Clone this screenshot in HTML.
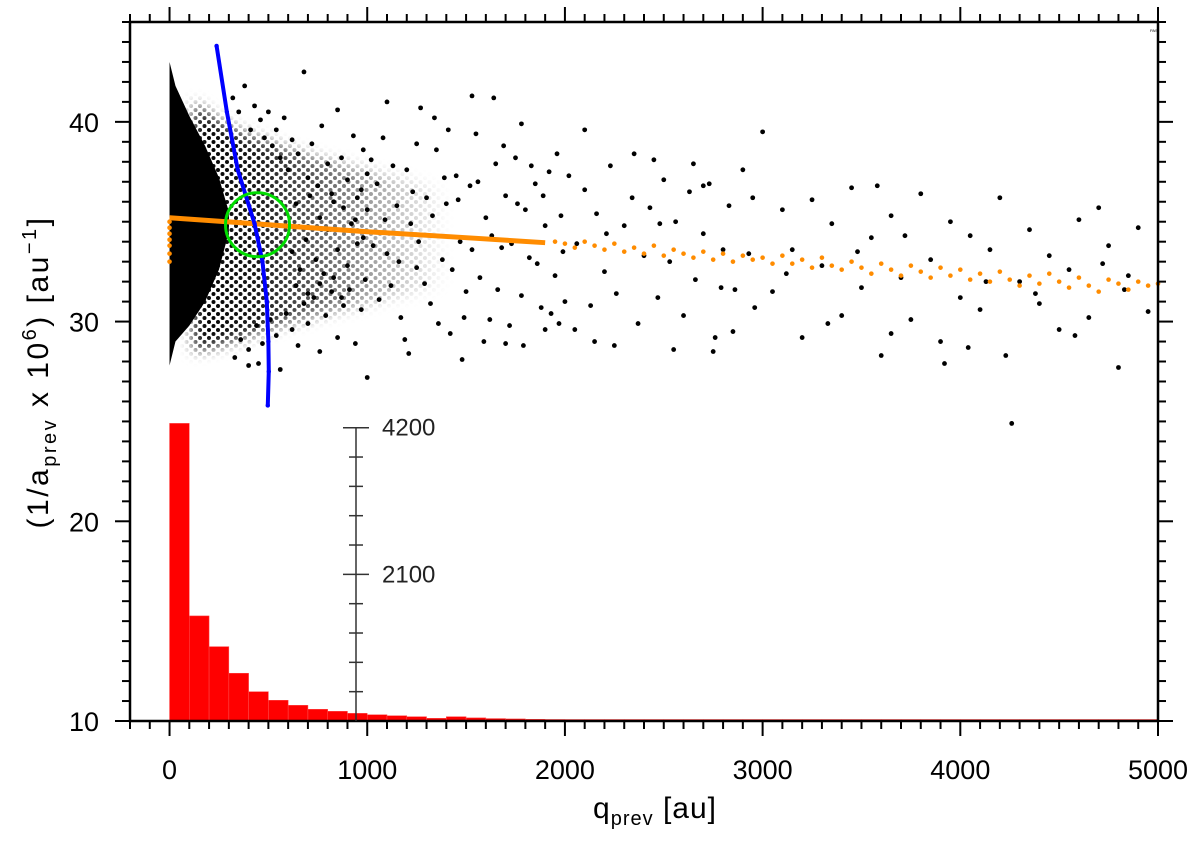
<!DOCTYPE html>
<html><head><meta charset="utf-8"><style>
html,body{margin:0;padding:0;background:#fff;}
svg{display:block;font-family:"Liberation Sans",sans-serif;}
</style></head><body>
<svg id="chart" width="1200" height="844" viewBox="0 0 1200 844" xmlns="http://www.w3.org/2000/svg">
<defs>
<linearGradient id="haloGrad" x1="0" x2="1" y1="0" y2="0">
<stop offset="0" stop-color="#fff" stop-opacity="1"/>
<stop offset="0.25" stop-color="#fff" stop-opacity="0.9"/>
<stop offset="0.6" stop-color="#fff" stop-opacity="0.5"/>
<stop offset="1" stop-color="#fff" stop-opacity="0"/>
</linearGradient>
<pattern id="dots" width="9" height="8" patternUnits="userSpaceOnUse">
<circle cx="2" cy="2" r="2" fill="#000"/>
<circle cx="6.5" cy="6" r="2" fill="#000"/>
</pattern>
<filter id="soft" x="-10%" y="-20%" width="120%" height="140%"><feGaussianBlur stdDeviation="7"/></filter>
<mask id="haloMask" maskUnits="userSpaceOnUse" x="0" y="0" width="1200" height="844">
<g id="maskg" filter="url(#soft)"></g>
</mask>
</defs>
<g id="hist"></g>
<g id="blob"></g>
<g id="pts"></g>
<g id="orange"></g>
<g id="blue"></g>
<g id="green"></g>
<g id="axes"></g>
<g id="haxis"></g>
<text x="1150" y="32" font-size="4">PAS</text>
<text x="655" y="818" font-size="30" letter-spacing="1" text-anchor="middle">q<tspan font-size="20" dy="7">prev</tspan><tspan dy="-7">  [au]</tspan></text>
<text transform="translate(48,372) rotate(-90)" font-size="30" letter-spacing="2.5" text-anchor="middle">(1/a<tspan font-size="20" dy="8">prev</tspan><tspan dy="-8"> x 10</tspan><tspan font-size="20" dy="-12">6</tspan><tspan dy="12">)  [au</tspan><tspan font-size="20" dy="-12">−1</tspan><tspan dy="12">]</tspan></text>
</svg>
<script>
const xTicks=[0,1000,2000,3000,4000,5000];
const yTicks=[10,20,30,40];
const histCounts=[4262,1505,1065,684,420,297,225,168,139,110,90,76,62,39,62,45,35,30,25,22,18,15,12,10,8,6,5,4,3,3,2,2,2,1,1,1,1,1,1,1,1,1,1,1,1,1,1,1,1,1];
const histTickLabels=[2100,4200];
const envQ=[0,30,100,180,250,300];
const envTop=[43,41.8,40.3,38.8,37.2,35.5];
const envBot=[27.8,29,29.8,31,32.6,34.5];
const haloQ=[120,250,400,550,700,900,1100,1400];
const haloTop=[41,40,39.3,38.8,38.3,37.8,37.3,36.6];
const haloBot=[28.5,28.8,29.3,29.8,30.2,30.7,31.2,31.8];
const blackQ=[320,350,380,410,430,460,480,500,520,540,560,580,600,620,650,680,700,720,750,770,800,820,850,870,900,930,950,980,1000,330,360,400,440,470,510,540,560,590,620,650,680,700,730,760,790,820,850,880,910,940,970,1000,400,450,620,640,660,690,710,740,760,780,800,830,850,880,900,920,950,970,990,640,700,760,830,870,940,980,1000,
1020,1050,1080,1100,1120,1150,1170,1200,1220,1250,1270,1300,1320,1350,1380,1400,1420,1450,1470,1500,1520,1550,1570,1600,1620,1650,1680,1700,1720,1750,1780,1800,1820,1850,1880,1900,1920,1950,1980,2000,1030,1060,1090,1130,1160,1190,1230,1260,1290,1330,1360,1390,1430,1460,1490,1530,1560,1590,1630,1660,1690,1730,1760,1790,1830,1860,1890,1930,1960,1990,1100,1340,1530,1640,1210,1480,1700,1900,1250,1410,1780,1970,
2020,2060,2100,2130,2160,2200,2230,2260,2300,2340,2370,2400,2430,2470,2500,2530,2560,2600,2630,2660,2700,2730,2760,2800,2830,2860,2900,2930,2960,3000,2050,2150,2250,2350,2450,2550,2650,2750,2850,2950,2100,2700,2210,2480,2790,
3050,3100,3150,3200,3250,3300,3350,3400,3450,3500,3550,3600,3650,3700,3750,3800,3850,3900,3950,4000,4050,4100,4150,4200,4230,4260,4300,4350,4400,4450,4500,4550,4600,4650,4700,4750,4800,4850,4900,4950,3120,3330,3580,3720,3920,4130,4380,4580,4720,3480,3650,4040,4830];
const blackY=[41.2,40.5,41.8,39.6,40.8,40.1,39.2,40.5,38.8,39.6,38.2,40.2,37.6,39.1,38.4,42.5,37.2,38.9,36.8,39.8,37.9,36.4,40.6,38.2,37.1,39.3,36.2,38.6,37.4,28.2,29.1,28.6,29.8,28.9,30.1,29.3,27.6,30.4,29.6,28.8,30.9,29.9,31.2,28.5,30.3,31.5,29.2,30.8,31.6,28.9,30.6,27.2,27.8,27.9,33.5,35.9,32.6,34.1,36.3,33.1,35.2,32.4,34.6,36.0,33.6,35.7,32.8,34.9,33.9,36.6,32.1,31.8,31.4,31.9,32.2,31.2,35.1,34.2,35.6,
38.1,36.9,39.2,33.4,31.8,35.8,30.2,37.6,34.9,32.7,40.7,36.2,30.9,38.6,33.1,35.9,29.4,37.3,34.0,31.5,36.8,39.4,32.2,35.2,30.1,37.9,33.7,36.3,29.8,38.2,31.3,35.6,33.2,36.9,30.7,34.8,37.5,32.3,35.3,31.0,33.8,31.1,35.1,37.8,33.0,29.1,36.5,34.0,31.9,35.3,29.9,37.2,32.6,36.1,30.2,33.6,37.0,29.0,34.3,31.6,38.8,33.9,35.9,28.8,37.8,32.9,36.3,30.4,38.4,33.5,41.0,40.2,41.3,41.2,28.4,28.1,28.9,29.6,38.9,39.6,39.9,29.9,
37.3,33.9,36.6,30.8,35.4,32.5,37.8,31.4,34.8,36.2,29.9,33.3,35.7,31.2,37.1,33.0,35.0,30.3,36.5,32.1,34.4,36.9,29.2,33.6,35.8,31.6,37.6,33.4,30.7,39.5,29.6,29.0,28.8,38.4,38.1,28.6,37.9,28.5,29.5,36.2,39.6,36.8,34.4,34.9,31.7,
31.5,35.6,33.6,29.2,36.1,32.8,34.9,30.3,36.7,31.7,34.2,28.3,35.3,32.2,30.1,36.4,33.1,29.0,35.0,31.2,34.3,30.6,33.6,36.2,28.3,24.9,32.0,34.6,30.9,33.3,29.6,32.6,35.1,30.2,35.7,33.8,27.7,32.3,34.7,30.5,32.4,29.9,36.8,34.3,27.9,32.0,31.4,29.3,32.9,33.5,29.4,28.7,31.6];
const orangeLineQ=[0,500,1000,1500,1900];
const orangeLineY=[35.2,34.85,34.5,34.2,33.95];
const orangeQ=[0,0,0,0,0,0,0,1950,2000,2050,2100,2150,2200,2250,2300,2350,2400,2450,2500,2550,2600,2650,2700,2750,2800,2850,2900,2950,3000,3050,3100,3150,3200,3250,3300,3350,3400,3450,3500,3550,3600,3650,3700,3750,3800,3850,3900,3950,4000,4050,4100,4150,4200,4250,4300,4350,4400,4450,4500,4550,4600,4650,4700,4750,4800,4850,4900,4950,5000];
const orangeY=[35.0,34.7,34.4,34.1,33.8,33.4,33.0,34.0,33.9,33.7,34.0,33.8,33.6,33.9,33.5,33.7,33.4,33.8,33.3,33.6,33.4,33.2,33.5,33.1,33.4,33.0,33.3,33.1,33.2,32.9,33.3,32.9,33.1,32.7,33.2,32.8,32.6,33.0,32.7,32.4,32.9,32.6,32.3,32.8,32.5,32.2,32.7,32.3,32.6,32.1,32.4,32.0,32.5,32.1,31.8,32.3,31.9,32.4,32.0,31.7,32.2,31.8,31.5,32.1,31.9,31.6,32.0,31.8,31.9];
const blueQ=[238,290,345,430,470,492,500,502,497];
const blueY=[43.8,40.5,37.6,34.9,33.0,31.0,29.0,27.5,25.8];
const circleQ=445, circleY=34.85;

const NS="http://www.w3.org/2000/svg";
const L=130,R=1158,T=22,B=721;
const xMin=-200,xMax=5000,yMin=10,yMax=45;
function xs(q){return L+(q-xMin)/(xMax-xMin)*(R-L);}
function ys(v){return B-(v-yMin)/(yMax-yMin)*(B-T);}
const hMax=4200,hTop=427.7;
function hs(c){return B-c/hMax*(B-hTop);}
function mk(tag,attrs,parent){const e=document.createElementNS(NS,tag);for(const k in attrs)e.setAttribute(k,attrs[k]);parent.appendChild(e);return e;}

const hist=document.getElementById('hist');
histCounts.forEach((c,i)=>{
  const x0=xs(i*100),x1=xs((i+1)*100);
  const y=Math.min(hs(c),B-1.5);
  const r=mk('rect',{x:x0,y:y,width:x1-x0,height:B-y,fill:'#ff0000',stroke:'#ff5050','stroke-width':0.5},hist);
  
  
});

const blob=document.getElementById('blob');
let hp=haloQ.map((q,i)=>xs(q)+','+ys(haloTop[i])).join(' ')+' '+haloQ.slice().reverse().map((q,i)=>xs(q)+','+ys(haloBot[haloQ.length-1-i])).join(' ');
const hx0=xs(haloQ[0]),hx1=xs(haloQ[haloQ.length-1]);
mk('polygon',{points:hp,fill:'url(#haloGrad)'},document.getElementById('maskg'));
const hg=document.getElementById('haloGrad');
hg.setAttribute('gradientUnits','userSpaceOnUse');
hg.setAttribute('x1',hx0);
hg.setAttribute('x2',hx1);
hg.setAttribute('y1',0);
hg.setAttribute('y2',0);
const halo=mk('rect',{x:L,y:T,width:R-L,height:B-T,fill:'url(#dots)',mask:'url(#haloMask)'},blob);


let ep=envQ.map((q,i)=>xs(q)+','+ys(envTop[i])).join(' ')+' '+envQ.slice().reverse().map((q,i)=>xs(q)+','+ys(envBot[envQ.length-1-i])).join(' ');
const core=mk('polygon',{points:ep,fill:'#000'},blob);



const pts=document.getElementById('pts');
blackQ.forEach((q,i)=>{
  const c=mk('circle',{cx:xs(q),cy:ys(blackY[i]),r:2.4,fill:'#000'},pts);
  
  
});

const og=document.getElementById('orange');
const ol=mk('polyline',{points:orangeLineQ.map((q,i)=>xs(q)+','+ys(orangeLineY[i])).join(' '),fill:'none',stroke:'#ff8c00','stroke-width':5},og);


orangeQ.forEach((q,i)=>{
  const c=mk('circle',{cx:xs(q),cy:ys(orangeY[i]),r:2.3,fill:'#ff8c00'},og);
  
  
});

const bg=document.getElementById('blue');
const bl=mk('polyline',{points:blueQ.map((q,i)=>xs(q)+','+ys(blueY[i])).join(' '),fill:'none',stroke:'#0000ff','stroke-width':4,'stroke-linecap':'round','stroke-linejoin':'round'},bg);


blueQ.forEach((q,i)=>{
  const c=mk('circle',{cx:xs(q),cy:ys(blueY[i]),r:2.2,fill:'#0000ff'},bg);
  
  
});

const gc=mk('circle',{cx:xs(circleQ),cy:ys(circleY),r:32,fill:'none',stroke:'#00dd00','stroke-width':3},document.getElementById('green'));



const ax=document.getElementById('axes');
const fr=mk('rect',{x:L,y:T,width:R-L,height:B-T,fill:'none',stroke:'#000','stroke-width':2.5},ax);


for(let q=-200;q<=5000;q+=100){
  const major=q%1000===0, len=major?15:8, x=xs(q);
  mk('line',{x1:x,y1:B,x2:x,y2:B+len,stroke:'#000','stroke-width':2},ax);
  mk('line',{x1:x,y1:T,x2:x,y2:T-len,stroke:'#000','stroke-width':2},ax);
}
for(let v=10;v<=45;v+=1){
  const major=v%10===0, len=major?15:8, y=ys(v);
  mk('line',{x1:L,y1:y,x2:L-len,y2:y,stroke:'#000','stroke-width':2},ax);
  mk('line',{x1:R,y1:y,x2:R+len,y2:y,stroke:'#000','stroke-width':2},ax);
}
xTicks.forEach(q=>{
  const t=mk('text',{x:xs(q),y:779,'font-size':27,'text-anchor':'middle'},ax);
  t.textContent=q;
  
  
});
yTicks.forEach(v=>{
  const t=mk('text',{x:99,y:ys(v)+10,'font-size':27,'text-anchor':'end'},ax);
  t.textContent=v;
  
  
});

const ha=document.getElementById('haxis');
const hx=356;
mk('line',{x1:hx,y1:B,x2:hx,y2:hs(hMax),stroke:'#333','stroke-width':1.5},ha);
for(let c=420;c<=hMax;c+=420){
  const major=histTickLabels.includes(c), w=major?13:7, y=hs(c);
  mk('line',{x1:hx-w,y1:y,x2:hx+w,y2:y,stroke:'#333','stroke-width':1.5},ha);
}
histTickLabels.forEach(c=>{
  const t=mk('text',{x:382,y:hs(c)+8,'font-size':24,fill:'#222'},ha);
  t.textContent=c;
  
  
});
</script>
</body></html>
